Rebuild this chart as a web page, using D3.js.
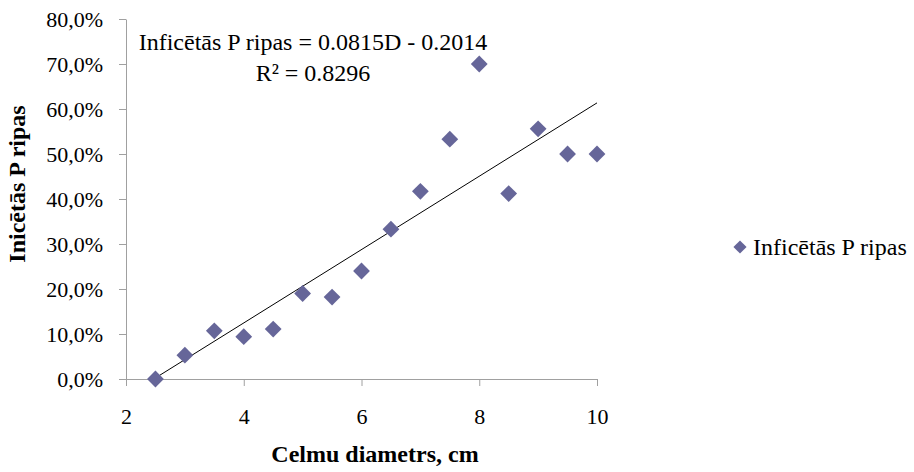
<!DOCTYPE html>
<html>
<head>
<meta charset="utf-8">
<script src="https://cdn.jsdelivr.net/npm/d3@7"></script>
<style>
  body { margin: 0; background: #fff; }
</style>
</head>
<body>
<script>
// diametrs (cm) and share of infected stumps
var diam = [2.5, 3, 3.5, 4, 4.5, 5, 5.5, 6, 6.5, 7, 7.5, 8, 8.5, 9, 9.5, 10];
var infected = [0.0, 0.053, 0.107, 0.094, 0.111, 0.19, 0.182, 0.24, 0.333, 0.417, 0.533, 0.70, 0.412, 0.556, 0.50, 0.50];
var xTicks = [2, 4, 6, 8, 10];
var yTicks = [0, 0.1, 0.2, 0.3, 0.4, 0.5, 0.6, 0.7, 0.8];
var slope = 0.0815, intercept = -0.2014;
var seriesName = "Inficētās P ripas";

var serif = "'Liberation Serif', 'Times New Roman', serif";
var width = 914, height = 472;
var svg = d3.select("body").append("svg").attr("width", width).attr("height", height)
  .style("font-family", serif);

var x = d3.scaleLinear().domain([2, 10]).range([126, 597]);
var y = d3.scaleLinear().domain([0, 0.8]).range([379, 19]);

var fmt = function(d){ return d3.format(".1%")(d).replace(".", ","); };

var gx = svg.append("g").attr("transform", "translate(0," + y(0) + ")")
  .call(d3.axisBottom(x).tickValues(xTicks).tickSize(7).tickSizeOuter(0).tickPadding(22));
var gy = svg.append("g").attr("transform", "translate(" + x(2) + ",0)")
  .call(d3.axisLeft(y).tickValues(yTicks).tickFormat(fmt).tickSize(7).tickSizeOuter(0).tickPadding(16));

[gx, gy].forEach(function(g){
  g.attr("font-family", null).attr("font-size", null);
  g.select(".domain").attr("stroke", "#a0a0a0");
  g.selectAll(".tick line").attr("stroke", "#a0a0a0");
  g.selectAll(".tick text").style("font-size", "22px").style("font-family", serif);
});

// trend line
svg.append("line")
  .attr("x1", x(2.5)).attr("y1", y(slope * 2.5 + intercept))
  .attr("x2", x(10)).attr("y2", y(slope * 10 + intercept))
  .attr("stroke", "#000").attr("stroke-width", 1);

var diamond = d3.symbol().type(d3.symbolDiamond2).size(180);

svg.append("g").selectAll("path")
  .data(diam)
  .enter().append("path")
    .attr("d", diamond)
    .attr("transform", function(d, i){ return "translate(" + x(d) + "," + y(infected[i]) + ")"; })
    .attr("fill", "#666699");

// equation
svg.append("text").attr("x", 313).attr("y", 50).attr("text-anchor", "middle")
  .style("font-size", "24px").style("font-family", serif)
  .text(seriesName + " = 0.0815D - 0.2014");
svg.append("text").attr("x", 313).attr("y", 81).attr("text-anchor", "middle")
  .style("font-size", "24px").style("font-family", serif)
  .text("R² = 0.8296");

// axis titles
svg.append("text").attr("x", 375).attr("y", 462).attr("text-anchor", "middle").style("font-family", serif)
  .style("font-size", "24px").style("font-weight", "bold").text("Celmu diametrs, cm");
svg.append("text").attr("transform", "translate(25,184) rotate(-90)").attr("text-anchor", "middle")
  .style("font-family", serif)
  .style("font-size", "24px").style("font-weight", "bold").text("Inicētās P ripas");

// legend
svg.append("path").attr("d", d3.symbol().type(d3.symbolDiamond2).size(110))
  .attr("transform", "translate(740,247)").attr("fill", "#666699");
svg.append("text").attr("x", 753).attr("y", 255).style("font-size", "24px").style("font-family", serif)
  .text(seriesName);
</script>
</body>
</html>
